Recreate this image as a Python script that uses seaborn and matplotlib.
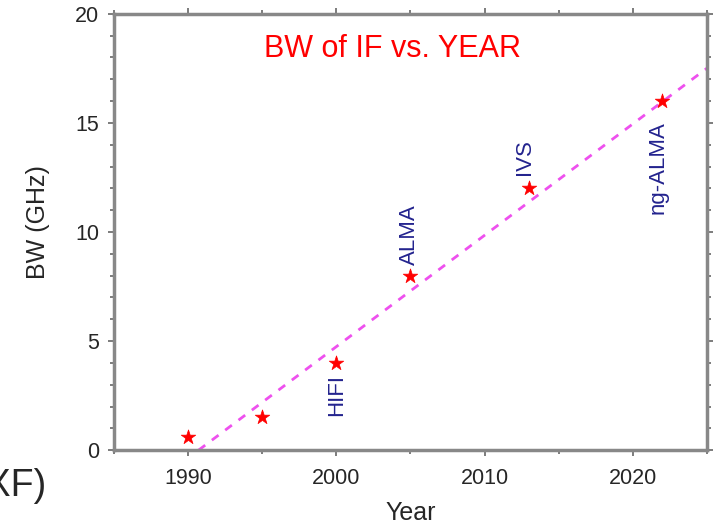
import pandas as pd
import seaborn as sns
import matplotlib.pyplot as plt
from matplotlib.ticker import MultipleLocator

# data
years = [1990, 1995, 2000, 2005, 2013, 2022]
bw = [0.6, 1.5, 4.0, 8.0, 12.0, 16.0]

# dashed trend line (end points)
trend_years = [1990.7, 2025]
trend_bw = [0.0, 17.5]

# instrument labels
label_names = ['HIFI', 'ALMA', 'IVS', 'ng-ALMA']
label_years = [2000, 2004.9, 2012.7, 2021.7]
label_bw = [3.5, 8.5, 12.6, 15.1]
label_va = ['top', 'bottom', 'bottom', 'top']

points = pd.DataFrame({'Year': years, 'BW': bw})
trend = pd.DataFrame({'Year': trend_years, 'BW': trend_bw})

sns.set_style('ticks')
plt.rcParams['font.family'] = ['Liberation Sans', 'DejaVu Sans']

fig = plt.figure(figsize=(7.22, 5.29), dpi=100)
ax = fig.add_axes([0.158, 0.149, 0.821, 0.825])

sns.lineplot(data=trend, x='Year', y='BW', ax=ax, color='#ee50ee',
             linestyle=(0, (3, 3)), linewidth=2)
sns.scatterplot(data=points, x='Year', y='BW', ax=ax, marker='*', s=120,
                color='red', edgecolor='red', linewidth=0.5, zorder=3)

for name, x, y, va in zip(label_names, label_years, label_bw, label_va):
    ax.text(x, y, name, rotation=90, ha='center', va=va, color='#23238e',
            fontsize=16)

ax.text(0.47, 0.92, 'BW of IF vs. YEAR', transform=ax.transAxes,
        ha='center', va='center', color='red', fontsize=22)

ax.set_xlim(1985, 2025)
ax.set_ylim(0, 20)
ax.xaxis.set_major_locator(MultipleLocator(10))
ax.xaxis.set_minor_locator(MultipleLocator(5))
ax.yaxis.set_major_locator(MultipleLocator(5))
ax.yaxis.set_minor_locator(MultipleLocator(1))
ax.tick_params(which='both', direction='out', top=True, right=True,
               labeltop=False, labelright=False, color='#666666', width=1.2)
ax.tick_params(which='major', length=4.5, labelsize=15.5, pad=6)
ax.tick_params(axis='x', which='major', pad=8)
ax.tick_params(which='minor', length=3)
for sp in ax.spines.values():
    sp.set_visible(True)
    sp.set_color('#888888')
    sp.set_linewidth(2.5)

ax.set_xlabel('Year', fontsize=18, labelpad=9)
ax.set_ylabel('BW (GHz)', fontsize=18, labelpad=18, y=0.523)

fig.text(0.065, 0.082, '(XF)', ha='right', va='center', fontsize=27)

fig.savefig('out.png', dpi=100)
